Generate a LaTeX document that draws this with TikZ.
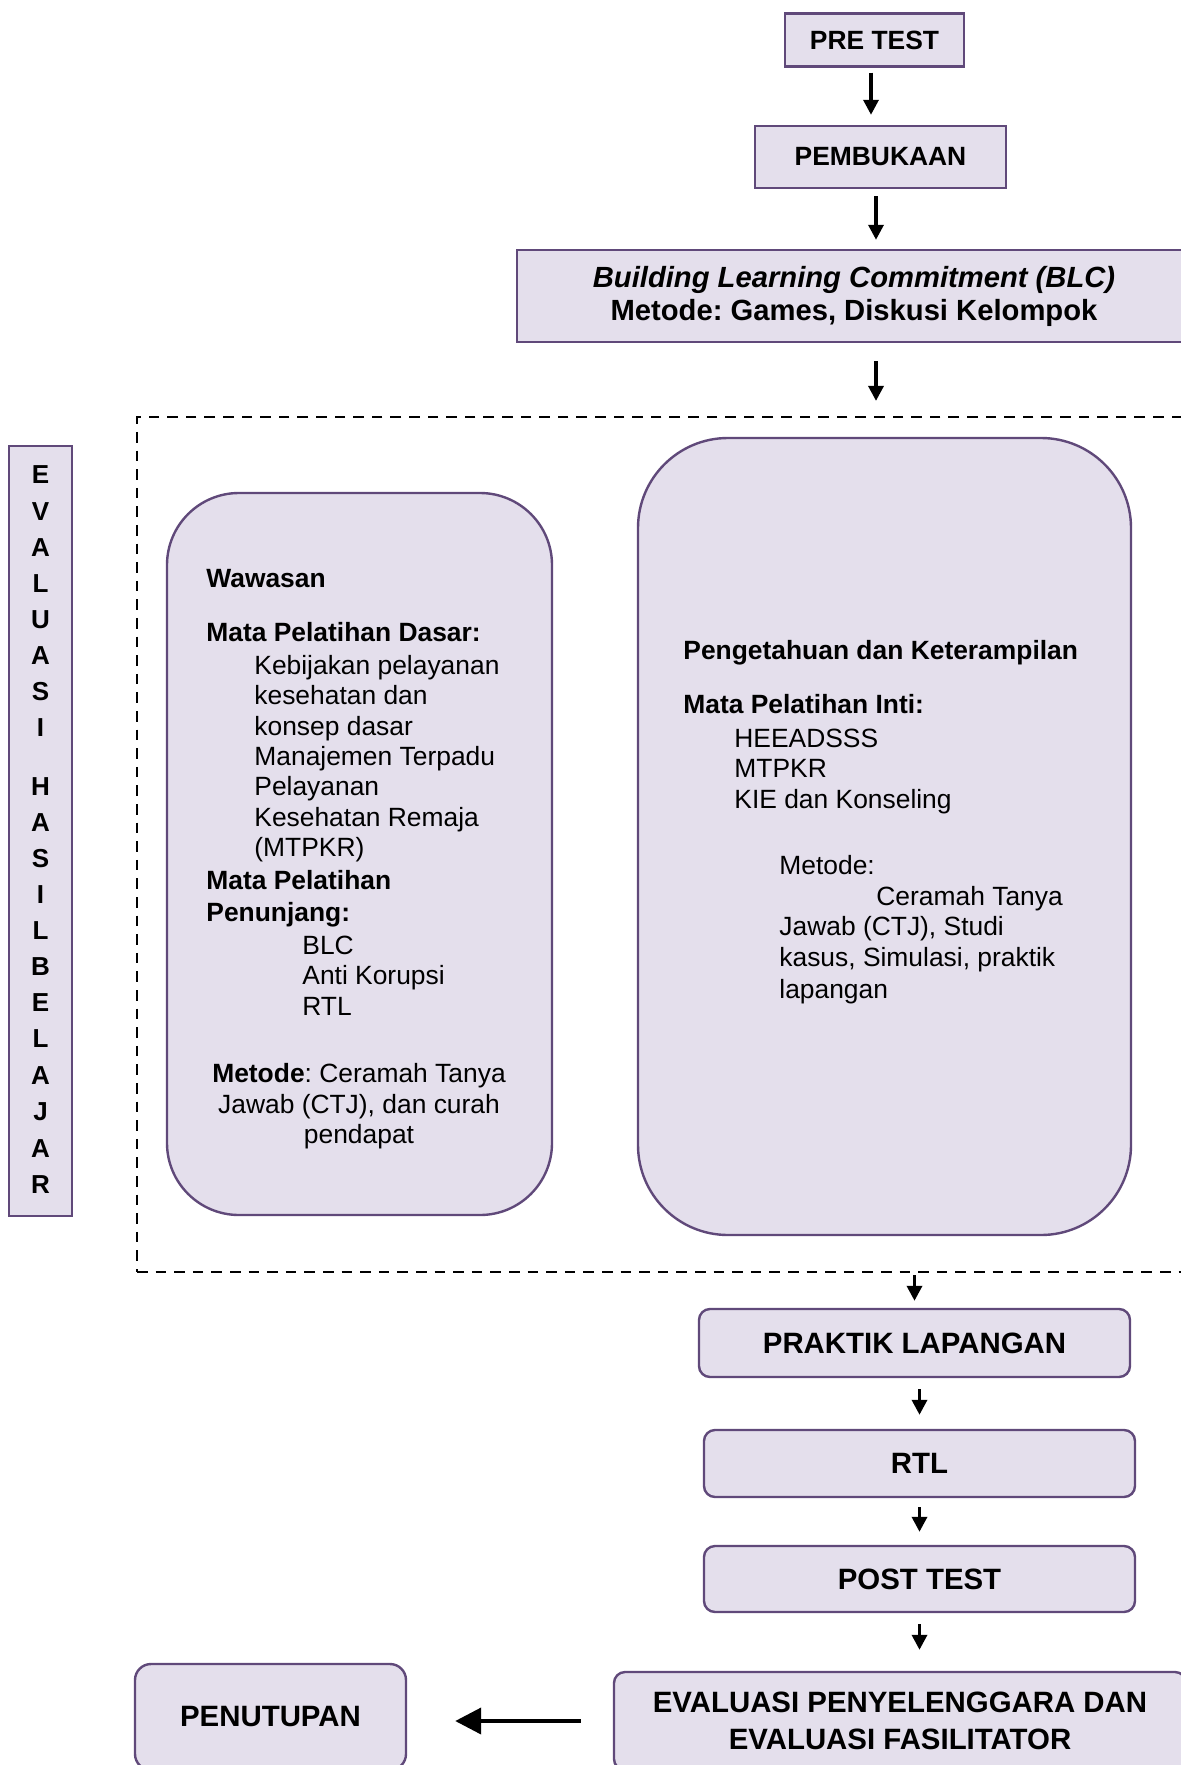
\documentclass[tikz,border=0pt]{standalone}
\usepackage{fontspec}
\setmainfont{Liberation Sans}
\usetikzlibrary{arrows.meta}
\definecolor{boxfill}{RGB}{228,223,236}
\definecolor{boxline}{RGB}{96,73,122}
\frenchspacing
\begin{document}
\begin{tikzpicture}[x=0.5pt,y=-0.5pt,
  sqbox/.style={draw=boxline, fill=boxfill, line width=1.2pt, inner sep=0pt,
    font=\fontsize{13.2}{16.5}\selectfont\bfseries, align=center},
  rndbox/.style={sqbox, rounded corners=5.5pt, font=\fontsize{14.7}{18.5}\selectfont\bfseries},
  arr/.style={-{Triangle[width=7.5pt,length=7.5pt]}, line width=1.7pt},
  bigarr/.style={-{Triangle[width=13pt,length=13pt]}, line width=2pt},
  txt/.style={anchor=base west, inner sep=0pt, font=\fontsize{13.2}{15.2}\selectfont},
  ctxt/.style={anchor=base, inner sep=0pt, font=\fontsize{13.2}{15.2}\selectfont},
  btxt/.style={txt, font=\fontsize{13.2}{15.2}\selectfont\bfseries},
  vletter/.style={anchor=base, inner sep=0pt, font=\fontsize{13}{15}\selectfont\bfseries}
]
\useasboundingbox (0,0) rectangle (1181,1765);
\fill[white] (0,0) rectangle (1181,1765);

% top boxes
\node[sqbox, minimum width=89.5pt, minimum height=26.5pt] (pre) at (874.5,40) {PRE TEST};
\node[sqbox, minimum width=125.5pt, minimum height=31pt] (pemb) at (880.5,157) {PEMBUKAAN};
\node[sqbox, minimum width=337pt, minimum height=46pt, font=\fontsize{14.6}{16.5}\selectfont\bfseries] (blc) at (854,296)
  {\textit{Building Learning Commitment (BLC)}\\Metode: Games, Diskusi Kelompok};

% dashed frame
\node[draw=black, line width=1.1pt, dash pattern=on 5.3pt off 4pt, inner sep=0pt,
  minimum width=526.5pt, minimum height=427.5pt] (frame) at (663.5,844.5) {};

% vertical evaluation box
\node[draw=boxline, fill=boxfill, line width=1.2pt, inner sep=0pt,
  minimum width=31.5pt, minimum height=385pt] (evalv) at (40.5,831) {};
\foreach \l/\y [count=\i] in {E/474,V/511,A/547,L/583,U/619,A/655,S/691,I/727,
  H/786,A/822,S/858,I/894,L/930,B/966,E/1002,L/1038,A/1075,J/1111,A/1148,R/1184}
  \node[vletter] (v\i) at (40.5,\y+9.3) {\l};

% left rounded box
\node[draw=boxline, fill=boxfill, line width=1.2pt, inner sep=0pt, rounded corners=36pt,
  minimum width=192.5pt, minimum height=361pt] (lbox) at (359.5,854) {};
\node[btxt] (l1) at (206,587) {Wawasan};
\node[btxt] (l2) at (206,641) {Mata Pelatihan Dasar:};
\node[txt] (l3) at (254,674) {Kebijakan pelayanan};
\node[txt] (l4) at (254,704) {kesehatan dan};
\node[txt] (l5) at (254,735) {konsep dasar};
\node[txt] (l6) at (254,765) {Manajemen Terpadu};
\node[txt] (l7) at (254,795) {Pelayanan};
\node[txt] (l8) at (254,826) {Kesehatan Remaja};
\node[txt] (l9) at (254,856) {(MTPKR)};
\node[btxt] (l10) at (206,889) {Mata Pelatihan};
\node[btxt] (l11) at (206,921) {Penunjang:};
\node[txt] (l12) at (302,954) {BLC};
\node[txt] (l13) at (302,984) {Anti Korupsi};
\node[txt] (l14) at (302,1015) {RTL};
\node[ctxt] (l15) at (359,1082) {\textbf{Metode}: Ceramah Tanya};
\node[ctxt] (l16) at (359,1113) {Jawab (CTJ), dan curah};
\node[ctxt] (l17) at (359,1143) {pendapat};

% right rounded box
\node[draw=boxline, fill=boxfill, line width=1.2pt, inner sep=0pt, rounded corners=45pt,
  minimum width=246.5pt, minimum height=398.5pt] (rbox) at (884.5,836.5) {};
\node[btxt] (r1) at (683,659) {Pengetahuan dan Keterampilan};
\node[btxt] (r2) at (683,713) {Mata Pelatihan Inti:};
\node[txt] (r3) at (734,747) {HEEADSSS};
\node[txt] (r4) at (734,777) {MTPKR};
\node[txt] (r5) at (734,808) {KIE dan Konseling};
\node[txt] (r6) at (779,874) {Metode:};
\node[txt] (r7) at (876,905) {Ceramah Tanya};
\node[txt] (r8) at (779,935) {Jawab (CTJ), Studi};
\node[txt] (r9) at (779,966) {kasus, Simulasi, praktik};
\node[txt] (r10) at (779,998) {lapangan};

% lower boxes
\node[rndbox, minimum width=215.5pt, minimum height=34pt] (prak) at (914.5,1343) {PRAKTIK LAPANGAN};
\node[rndbox, minimum width=215.5pt, minimum height=33.5pt] (rtl) at (919.5,1463.5) {RTL};
\node[rndbox, minimum width=215.5pt, minimum height=33pt] (post) at (919.5,1579) {POST TEST};
\node[rndbox, minimum width=286pt, minimum height=49pt]
  (eval) at (900,1721) {EVALUASI PENYELENGGARA DAN\\EVALUASI FASILITATOR};
\node[rndbox, rounded corners=8pt, minimum width=135.5pt, minimum height=53pt] (penut) at (270.5,1717) {PENUTUPAN};

% connectors
\draw[arr, shorten <=2.5pt, shorten >=5pt] ([xshift=-1.75pt]pre.south) -- ([xshift=-1.75pt]pre.south |- pemb.north);
\draw[arr, shorten <=3.5pt, shorten >=4.5pt] ([xshift=-2.25pt]pemb.south) -- ([xshift=-2.25pt]pemb.south |- blc.north);
\draw[arr, shorten <=9pt, shorten >=7.5pt] ([xshift=-2.25pt]blc.south -| pemb.south) -- ([xshift=-2.25pt]frame.north -| pemb.south);
\draw[arr, shorten <=1pt, shorten >=3.5pt] (frame.south -| prak.north) -- (prak.north);
\draw[arr, shorten <=5.5pt, shorten >=7pt] (prak.south -| rtl.north) -- (rtl.north);
\draw[arr, shorten <=4.5pt, shorten >=6.5pt] (rtl.south) -- (post.north);
\draw[arr, shorten <=5.5pt, shorten >=10.5pt] (post.south) -- (post.south |- eval.north);
\draw[bigarr, shorten <=16pt, shorten >=24pt] (eval.west) -- (eval.west -| penut.east);
\end{tikzpicture}
\end{document}
